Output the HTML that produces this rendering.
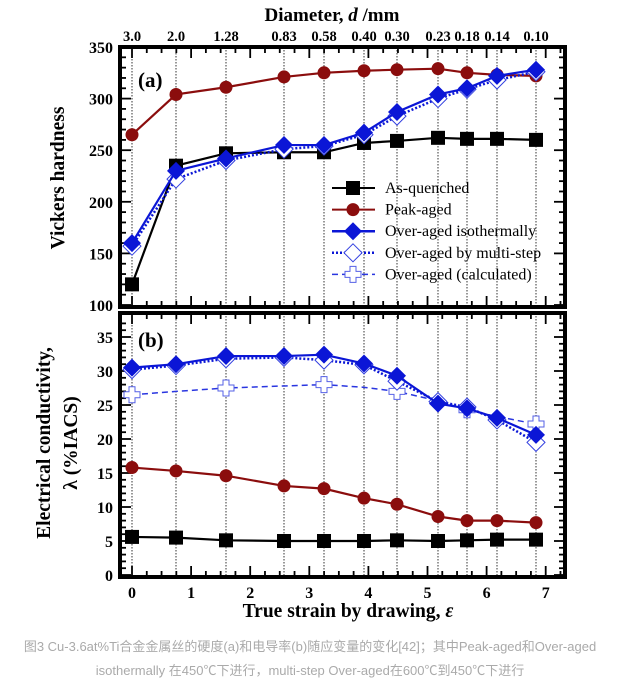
<!DOCTYPE html><html><head><meta charset="utf-8"><style>body{margin:0;background:#fff}svg{display:block}</style></head><body>
<svg id="s" width="621" height="681" xmlns="http://www.w3.org/2000/svg" font-family="Liberation Serif, serif"></svg>
<script>
const S=document.getElementById('s');let h='';
const X=e=>132+e*59.1;
const px=[132,176,226,284,324,364,397,438,467,497,536];
const YA=v=>305-(v-100)*1.032, YB=v=>575-v*6.8;
px.forEach(x=>{h+=`<line x1="${x}" y1="47" x2="${x}" y2="307" stroke="#000" stroke-width="0.8" stroke-dasharray="1.5,1.5"/><line x1="${x}" y1="313" x2="${x}" y2="577" stroke="#000" stroke-width="0.8" stroke-dasharray="1.5,1.5"/>`});
function ticks(y0,y1){for(let e=-0.25;e<=7.4;e+=0.25){let x=X(e);if(x<121||x>564)continue;let L=(Math.abs(e-Math.round(e))<0.01)?11:6;h+=`<line x1="${x}" y1="${y1}" x2="${x}" y2="${y1-L}" stroke="#000" stroke-width="1.8"/><line x1="${x}" y1="${y0}" x2="${x}" y2="${y0+L}" stroke="#000" stroke-width="1.8"/>`;}}
ticks(47,307);ticks(313,577);
for(let v=100;v<=350;v+=10){let y=YA(v),L=v%50?6:11;h+=`<line x1="120" y1="${y}" x2="${120+L}" y2="${y}" stroke="#000" stroke-width="1.8"/><line x1="565" y1="${y}" x2="${565-L}" y2="${y}" stroke="#000" stroke-width="1.8"/>`;if(v%50==0)h+=`<text x="113" y="${y+6}" text-anchor="end" font-size="16" font-weight="bold">${v}</text>`}
for(let v=0;v<=37;v+=1){let y=YB(v),L=v%5?6:11;h+=`<line x1="120" y1="${y}" x2="${120+L}" y2="${y}" stroke="#000" stroke-width="1.8"/><line x1="565" y1="${y}" x2="${565-L}" y2="${y}" stroke="#000" stroke-width="1.8"/>`;if(v%5==0)h+=`<text x="113" y="${y+6}" text-anchor="end" font-size="16" font-weight="bold">${v}</text>`}
h+=`<rect x="120" y="47" width="445" height="260" fill="none" stroke="#000" stroke-width="4"/><rect x="120" y="313" width="445" height="264" fill="none" stroke="#000" stroke-width="4"/>`;
['3.0','2.0','1.28','0.83','0.58','0.40','0.30','0.23','0.18','0.14','0.10'].forEach((t,i)=>h+=`<text x="${px[i]}" y="41" text-anchor="middle" font-size="14.5" font-weight="bold">${t}</text>`);
for(let e=0;e<=7;e++)h+=`<text x="${X(e)}" y="598" text-anchor="middle" font-size="16" font-weight="bold">${e}</text>`;
h+=`<text x="332" y="21" text-anchor="middle" font-size="19" font-weight="bold">Diameter, <tspan font-style="italic">d</tspan> /mm</text>`;
h+=`<text x="348" y="617" text-anchor="middle" font-size="19.5" font-weight="bold">True strain by drawing, <tspan font-style="italic">ε</tspan></text>`;
h+=`<text transform="translate(64,178) rotate(-90)" text-anchor="middle" font-size="19.5" font-weight="bold">Vickers hardness</text>`;
h+=`<text transform="translate(50,443) rotate(-90)" text-anchor="middle" font-size="19.5" font-weight="bold">Electrical conductivity,</text><text transform="translate(77,443) rotate(-90)" text-anchor="middle" font-size="19.5" font-weight="bold">λ (%IACS)</text>`;
h+=`<text x="138" y="87" font-size="21" font-weight="bold">(a)</text><text x="138" y="347" font-size="21" font-weight="bold">(b)</text>`;
const mk={sq:(x,y)=>`<rect x="${x-7}" y="${y-7}" width="14" height="14" fill="#000"/>`,
ci:(x,y)=>`<circle cx="${x}" cy="${y}" r="6.5" fill="#8b0d0d"/>`,
di:(x,y)=>`<path d="M${x} ${y-9}L${x+9} ${y}L${x} ${y+9}L${x-9} ${y}Z" fill="#0b16d6"/>`,
od:(x,y)=>`<path d="M${x} ${y-9}L${x+9} ${y}L${x} ${y+9}L${x-9} ${y}Z" fill="#fff" stroke="#3340e0" stroke-width="1"/>`,
pl:(x,y)=>`<path d="M${x-3} ${y-8}h6v5h5v6h-5v5h-6v-5h-5v-6h5z" fill="#fff" stroke="#5560e6" stroke-width="1"/>`};
function ser(xs,ys,col,w,dash,m){h+=`<polyline points="${xs.map((x,i)=>x+','+ys[i]).join(' ')}" fill="none" stroke="${col}" stroke-width="${w}" ${dash?`stroke-dasharray="${dash}"`:''}/>`;if(m)xs.forEach((x,i)=>h+=mk[m](x,ys[i]));}
ser(px,[120,235,247,248,248,257,259,262,261,261,260].map(YA),'#000',2.2,0,'sq');
ser(px,[265,304,311,321,325,327,328,329,325,323,322].map(YA),'#8b0d0d',2.2,0,'ci');
ser(px,[157,222,240,251,254,265,283,300,309,318,326].map(YA),'#0b16d6',2.5,'2,2','od');
ser(px,[160,230,242,255,255,267,287,304,310,322,328].map(YA),'#0b16d6',2.2,0,'di');
ser(px,[5.6,5.5,5.1,5,5,5,5.1,5,5.1,5.2,5.2].map(YB),'#000',2.2,0,'sq');
ser(px,[15.8,15.3,14.6,13.1,12.7,11.3,10.4,8.6,8,8,7.7].map(YB),'#8b0d0d',2.2,0,'ci');
ser(px,[26.5,27.0,27.5,27.8,28,27.6,27,25.6,24.3,23.3,22.2].map(YB),'#2a36e0',1.5,'6,4',0);
[0,2,4,6,8,10].forEach(i=>h+=mk.pl(px[i],YB([26.5,0,27.5,0,28,0,27,0,24.3,0,22.2][i])));
ser(px,[30.2,30.8,31.8,32,31.6,30.9,28.5,25.5,24.7,22.8,19.5].map(YB),'#0b16d6',2.5,'2,2','od');
ser(px,[30.5,31,32.2,32.2,32.4,31.1,29.3,25.2,24.5,23.1,20.6].map(YB),'#0b16d6',2.2,0,'di');
const lg=[['As-quenched','#000',2,0,'sq'],['Peak-aged','#8b0d0d',2,0,'ci'],['Over-aged isothermally','#0b16d6',2.5,0,'di'],['Over-aged by multi-step','#0b16d6',2.5,'2,2','od'],['Over-aged (calculated)','#2a36e0',1.5,'6,4','pl']];
lg.forEach((l,i)=>{let y=188+i*21.6;h+=`<line x1="332" y1="${y}" x2="375" y2="${y}" stroke="${l[1]}" stroke-width="${l[2]}" ${l[3]?`stroke-dasharray="${l[3]}"`:''}/>`+mk[l[4]](353,y)+`<text x="385" y="${y+5}" font-size="16">${l[0]}</text>`});
h+=`<text x="310" y="651" text-anchor="middle" font-size="13" fill="#aaa" font-family="Liberation Sans, Noto Sans CJK SC, sans-serif">图3 Cu-3.6at%Ti合金金属丝的硬度(a)和电导率(b)随应变量的变化[42]；其中Peak-aged和Over-aged</text>`;
h+=`<text x="310" y="675" text-anchor="middle" font-size="13" fill="#aaa" font-family="Liberation Sans, Noto Sans CJK SC, sans-serif">isothermally 在450℃下进行，multi-step Over-aged在600℃到450℃下进行</text>`;
S.innerHTML=h;
</script></body></html>
